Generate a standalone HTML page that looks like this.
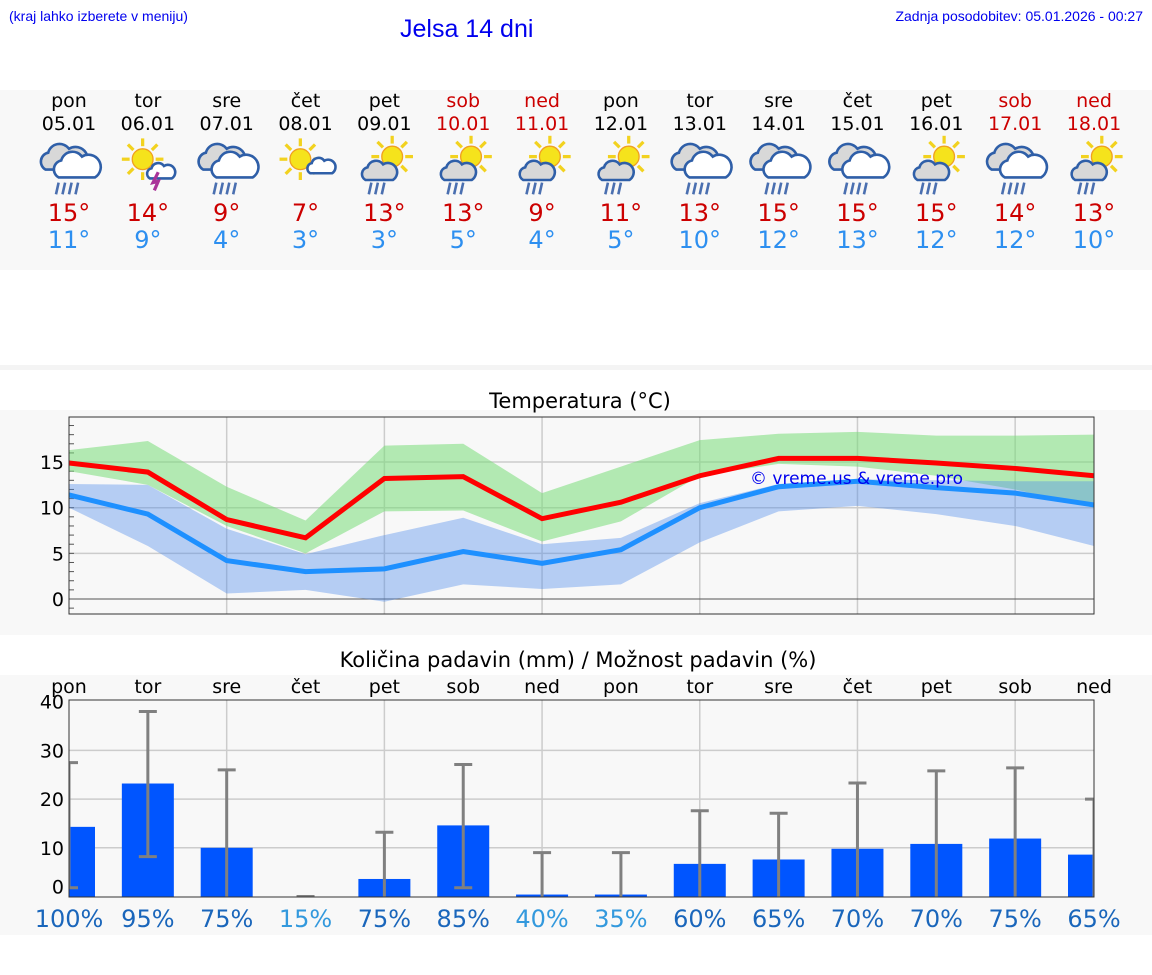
<!DOCTYPE html>
<html><head><meta charset="utf-8"><style>
body{margin:0;width:1152px;height:975px;background:#fff;font-family:"Liberation Sans","DejaVu Sans",sans-serif;overflow:hidden;position:relative}
.a{position:absolute}
svg text{font-family:"DejaVu Sans","Liberation Sans",sans-serif}
</style></head><body>
<div class="a" style="left:9px;top:8px;font-size:14px;color:#0000ee">(kraj lahko izberete v meniju)</div>
<div class="a" style="left:400px;top:15px;font-size:25px;color:#0000ee">Jelsa 14 dni</div>
<div class="a" style="right:9px;top:8px;font-size:14px;color:#0000ee">Zadnja posodobitev: 05.01.2026 - 00:27</div>
<div class="a" style="left:0;top:90px;width:1152px;height:180px;background:#f8f8f8"></div>
<div class="a" style="left:0;top:365px;width:1152px;height:5px;background:#f4f4f4"></div>
<div class="a" style="left:0;top:410px;width:1152px;height:225px;background:#f8f8f8"></div>
<div class="a" style="left:0;top:675px;width:1152px;height:260px;background:#f8f8f8"></div>
<svg id="s" class="a" style="left:0;top:0" width="1152" height="975"></svg>
<script>
const days=["pon","tor","sre","čet","pet","sob","ned","pon","tor","sre","čet","pet","sob","ned"];
const dates=["05.01","06.01","07.01","08.01","09.01","10.01","11.01","12.01","13.01","14.01","15.01","16.01","17.01","18.01"];
const weekend=[0,0,0,0,0,1,1,0,0,0,0,0,1,1];
const icons=["rain","storm","rain","sun","sunrain","sunrain","sunrain","sunrain","rain","rain","rain","sunrain","rain","sunrain"];
const maxT=[15,14,9,7,13,13,9,11,13,15,15,15,14,13];
const minT=[11,9,4,3,3,5,4,5,10,12,13,12,12,10];
const maxLine=[14.9,13.9,8.7,6.7,13.2,13.4,8.8,10.6,13.5,15.4,15.4,14.9,14.3,13.5];
const maxHi=[16.3,17.3,12.3,8.6,16.8,17.0,11.6,14.5,17.4,18.1,18.3,17.9,17.9,18.0];
const maxLo=[14.0,12.5,8.0,5.0,9.6,9.7,6.3,8.5,13.5,14.8,14.5,13.5,12.0,10.0];
const minLine=[11.4,9.3,4.2,3.0,3.3,5.2,3.9,5.4,10.0,12.3,12.9,12.2,11.6,10.3];
const minHi=[12.6,12.5,7.7,4.9,7.0,8.9,6.0,6.7,10.5,12.6,13.1,13.0,12.9,12.9];
const minLo=[10.0,5.8,0.6,1.0,-0.3,1.6,1.1,1.6,6.2,9.6,10.2,9.3,8.0,5.8];
const precip=[14.3,23.2,10,0,3.6,14.6,0.4,0.4,6.7,7.6,9.8,10.8,11.9,8.6];
const errHi=[27.5,38,26,0,13.2,27.1,9,9,17.6,17.1,23.3,25.8,26.4,20];
const errLo=[1.8,8.2,0,0,0,1.8,0,0,0,0,0,0,0,0];
const prob=[100,95,75,15,75,85,40,35,60,65,70,70,75,65];
const tTicks=[0,5,10,15];
const pTicks=[0,10,20,30,40];
const s=document.getElementById('s');
const NS="http://www.w3.org/2000/svg";
function el(t,a,p){const e=document.createElementNS(NS,t);for(const k in a)e.setAttribute(k,a[k]);(p||s).appendChild(e);return e;}
const X0=69,X1=1094,DX=(X1-X0)/13;
const xd=i=>X0+i*DX;
const ty=v=>599-v*9.13;
const py=v=>896.5-v*4.87;
for(let i=0;i<14;i++){
 const x=xd(i),c=weekend[i]?"#cc0000":"#000";
 let t=el('text',{x:x,y:107,'text-anchor':'middle','font-size':19,fill:c});t.textContent=days[i];
 
 t=el('text',{x:x,y:130,'text-anchor':'middle','font-size':19,fill:c});t.textContent=dates[i];
 
 t=el('text',{x:x,y:221,'text-anchor':'middle','font-size':24,fill:"#cc0000"});t.textContent=maxT[i]+"°";
 
 t=el('text',{x:x,y:248,'text-anchor':'middle','font-size':24,fill:"#2d8ff0"});t.textContent=minT[i]+"°";
 
 const g=el('g',{transform:`translate(${x},167) scale(1.3)`});
 
 const ic=icons[i];
 const sun=(cx,cy,r)=>{for(let k=0;k<8;k++){const a=k*Math.PI/4;el('line',{x1:cx+Math.cos(a)*(r+2),y1:cy+Math.sin(a)*(r+2),x2:cx+Math.cos(a)*(r+8),y2:cy+Math.sin(a)*(r+8),stroke:"#f2d21f",'stroke-width':2.5},g);}el('circle',{cx:cx,cy:cy,r:r,fill:"#f5e31c",stroke:"#f0a020",'stroke-width':1},g);};
 const cloud=(cx,cy,k,fill)=>{const p=`M${cx-14*k},${cy+8*k} a${7*k},${7*k} 0 0 1 ${2*k},${-13*k} a${9*k},${9*k} 0 0 1 ${16*k},${-3*k} a${7*k},${7*k} 0 0 1 ${10*k},${16*k} z`;el('path',{d:p,fill:fill,stroke:"#2f5fa8",'stroke-width':2},g);};
 const rain=(cx,cy,n)=>{for(let k=0;k<n;k++)el('line',{x1:cx-6+k*5,y1:cy,x2:cx-8+k*5,y2:cy+9,stroke:"#4a6fb0",'stroke-width':2},g);};
 if(ic=="rain"){cloud(-4,-6,1,"#d8d8d8");cloud(6,0,1,"#fff");rain(-2,12,4);}
 else if(ic=="storm"){sun(-4,-6,8);cloud(10,4,0.6,"#fff");el('path',{d:"M8,4 L4,12 L8,11 L5,18",stroke:"#aa3399",'stroke-width':2.5,fill:"none"},g);}
 else if(ic=="sun"){sun(-4,-6,8);cloud(12,0,0.6,"#fff");}
 else {sun(6,-8,8);cloud(-4,4,0.75,"#d8d8d8");rain(-4,12,3);}
}
let t=el('text',{x:580,y:408,'text-anchor':'middle','font-size':21,fill:"#000"});t.textContent="Temperatura (°C)";

el('rect',{x:X0,y:417,width:X1-X0,height:197,fill:"#f8f8f8"});
for(let i=2;i<13;i+=2)el('line',{x1:xd(i),y1:417,x2:xd(i),y2:614,stroke:"#ccc",'stroke-width':1.5});
for(const v of tTicks){el('line',{x1:X0,y1:ty(v),x2:X1,y2:ty(v),stroke:v==0?"#555":"#ccc",'stroke-width':v==0?1:1.5});
 t=el('text',{x:64,y:ty(v)+7,'text-anchor':'end','font-size':19});t.textContent=v;
 }
for(let v=-1;v<=19;v++)el('line',{x1:X0,y1:ty(v),x2:X0+5,y2:ty(v),stroke:"#555"});
const band=(hi,lo,col,name)=>{let d="M"+hi.map((v,i)=>xd(i)+","+ty(v)).join(" L")+" L"+lo.map((v,i)=>xd(i)+","+ty(v)).reverse().join(" L")+"Z";const p=el('path',{d:d,fill:col});};
band(maxHi,maxLo,"rgba(120,220,120,0.55)","max-temp-range");
band(minHi,minLo,"rgba(80,140,235,0.4)","min-temp-range");
const line=(a,col,name)=>{const p=el('polyline',{points:a.map((v,i)=>xd(i)+","+ty(v)).join(" "),fill:"none",stroke:col,'stroke-width':5});};
line(minLine,"#1e90ff","min-temp-line");
line(maxLine,"#ff0000","max-temp-line");
t=el('text',{x:750,y:484,'font-size':17,fill:"#0000ee"});t.textContent="© vreme.us & vreme.pro";

el('rect',{x:X0,y:417,width:X1-X0,height:197,fill:"none",stroke:"#333",'stroke-width':1});
t=el('text',{x:578,y:667,'text-anchor':'middle','font-size':21});t.textContent="Količina padavin (mm) / Možnost padavin (%)";

for(let i=2;i<13;i+=2)el('line',{x1:xd(i),y1:700,x2:xd(i),y2:897,stroke:"#ccc",'stroke-width':1.5});
for(const v of pTicks){if(v>0&&v<40)el('line',{x1:X0,y1:py(v),x2:X1,y2:py(v),stroke:"#ccc",'stroke-width':1.5});
 t=el('text',{x:64,y:py(v)+(v==0?-3:7),'text-anchor':'end','font-size':19});t.textContent=v;
 }
const cp=el('clipPath',{id:'cp'});el('rect',{x:X0,y:700,width:X1-X0,height:197},cp);
const pg=el('g',{'clip-path':'url(#cp)'});
for(let i=0;i<14;i++){
 const x=xd(i);
 if(precip[i]>0){const b=el('rect',{x:x-26,y:py(precip[i]),width:52,height:py(0)-py(precip[i]),fill:"#0055ff"},pg);
 }
 const e=el('g',{stroke:"#808080",'stroke-width':3},pg);
 
 el('line',{x1:x,y1:py(errLo[i]),x2:x,y2:py(errHi[i])},e);
 el('line',{x1:x-9,y1:py(errHi[i]),x2:x+9,y2:py(errHi[i])},e);
 if(errLo[i]>0)el('line',{x1:x-9,y1:py(errLo[i]),x2:x+9,y2:py(errLo[i])},e);
 t=el('text',{x:x,y:693,'text-anchor':'middle','font-size':19});t.textContent=days[i];
 
 t=el('text',{x:x,y:927,'text-anchor':'middle','font-size':24,fill:prob[i]<50?"#3399dd":"#1a66bb"});t.textContent=prob[i]+"%";
 
}
el('rect',{x:X0,y:700,width:X1-X0,height:197,fill:"none",stroke:"#333",'stroke-width':1});
</script>
</body></html>
